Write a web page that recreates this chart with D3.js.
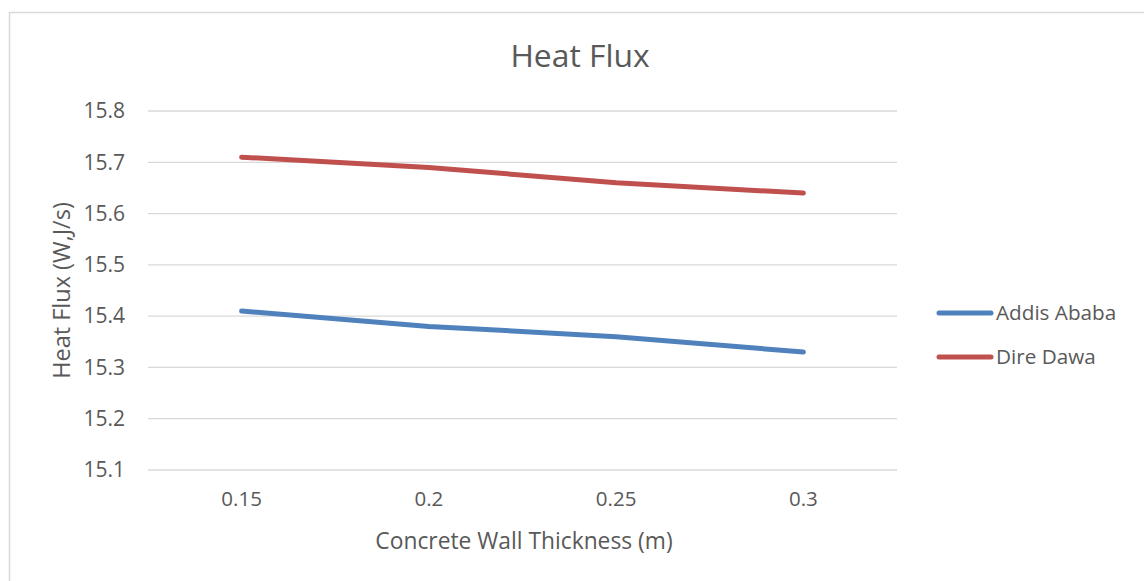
<!DOCTYPE html>
<html>
<head>
<meta charset="utf-8">
<script src="https://cdn.jsdelivr.net/npm/d3@7"></script>
<style>
  html, body { margin: 0; padding: 0; background: #fff; }
  svg { display: block; }
  text { font-family: "Open Sans", "Noto Sans", sans-serif; fill: #595959; }
</style>
</head>
<body>
<svg id="chart" width="1144" height="581"></svg>
<script>
const categories = ["0.15", "0.2", "0.25", "0.3"];
const addisAbaba = [15.41, 15.38, 15.36, 15.33];
const direDawa = [15.71, 15.69, 15.66, 15.64];
const yTicks = [15.1, 15.2, 15.3, 15.4, 15.5, 15.6, 15.7, 15.8];
const seriesNames = ["Addis Ababa", "Dire Dawa"];
const seriesColors = ["#4F81BD", "#C0504D"];

const series = [
  { name: seriesNames[0], values: addisAbaba, color: seriesColors[0] },
  { name: seriesNames[1], values: direDawa, color: seriesColors[1] }
];

const svg = d3.select("#chart");
const W = 1144, H = 581;

// chart border
svg.append("rect")
  .attr("x", 9.5).attr("y", 12.5)
  .attr("width", W + 10).attr("height", H + 10)
  .attr("fill", "#fff").attr("stroke", "#d9d9d9").attr("stroke-width", 1.5);

const plot = { left: 148, right: 897, top: 111, bottom: 470 };

const x = d3.scaleBand().domain(categories).range([plot.left, plot.right]);
const y = d3.scaleLinear().domain([15.1, 15.8]).range([plot.bottom, plot.top]);

// gridlines
svg.append("g").selectAll("line").data(yTicks).join("line")
  .attr("x1", plot.left).attr("x2", plot.right)
  .attr("y1", d => y(d)).attr("y2", d => y(d))
  .attr("stroke", "#d9d9d9").attr("stroke-width", 1.3);

// y axis labels
const yAxis = d3.axisLeft(y).tickValues(yTicks).tickFormat(d3.format(".1f")).tickSize(0).tickPadding(0);
const gy = svg.append("g").attr("transform", `translate(${plot.left - 23},0)`).call(yAxis);
gy.select(".domain").remove();
gy.selectAll("text").attr("font-size", 21).attr("fill", "#595959")
  .style("font-family", '"Open Sans", sans-serif');

// x axis labels
const xAxis = d3.axisBottom(x).tickSize(0).tickPadding(0);
const gx = svg.append("g").attr("transform", `translate(0,${plot.bottom + 21})`).call(xAxis);
gx.select(".domain").remove();
gx.selectAll("text").attr("font-size", 20.5).attr("fill", "#595959")
  .style("font-family", '"Open Sans", sans-serif');

// lines
const line = d3.line()
  .x((d, i) => x(categories[i]) + x.bandwidth() / 2)
  .y(d => y(d));

svg.append("g").selectAll("path").data(series).join("path")
  .attr("d", d => line(d.values))
  .attr("fill", "none")
  .attr("stroke", d => d.color)
  .attr("stroke-width", 5)
  .attr("stroke-linecap", "round")
  .attr("stroke-linejoin", "round");

// title
svg.append("text")
  .attr("x", 580).attr("y", 67)
  .attr("text-anchor", "middle")
  .attr("font-size", 31.8)
  .text("Heat Flux");

// x axis title
svg.append("text")
  .attr("x", 524).attr("y", 549)
  .attr("text-anchor", "middle")
  .attr("font-size", 22.8)
  .text("Concrete Wall Thickness (m)");

// y axis title
svg.append("text")
  .attr("transform", `translate(70,${(plot.top + plot.bottom) / 2}) rotate(-90)`)
  .attr("text-anchor", "middle")
  .attr("font-size", 23.5)
  .text("Heat Flux (W,J/s)");

// legend
const legend = svg.append("g").selectAll("g").data(series).join("g")
  .attr("transform", (d, i) => `translate(939,${313 + i * 44})`);
legend.append("line")
  .attr("x1", 0).attr("x2", 52).attr("y1", 0).attr("y2", 0)
  .attr("stroke", d => d.color).attr("stroke-width", 5).attr("stroke-linecap", "round");
legend.append("text")
  .attr("x", 57).attr("y", 7)
  .attr("font-size", 20.7)
  .text(d => d.name);
</script>
</body>
</html>
